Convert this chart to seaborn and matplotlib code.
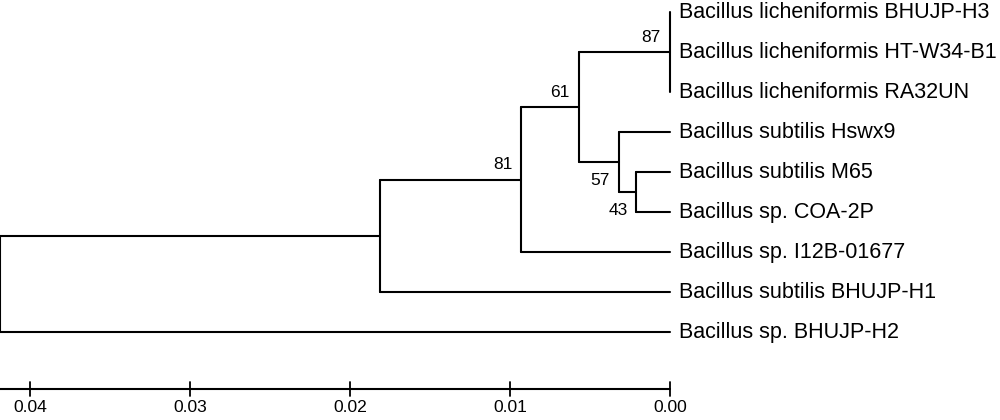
"""Rooted distance tree of Bacillus isolates, drawn with seaborn line segments."""

import matplotlib

matplotlib.use("Agg")
import matplotlib.pyplot as plt
import pandas as pd
import seaborn as sns

# leaves, top to bottom
leaf_names = [
    "Bacillus licheniformis BHUJP-H3",
    "Bacillus licheniformis HT-W34-B1",
    "Bacillus licheniformis RA32UN",
    "Bacillus subtilis Hswx9",
    "Bacillus subtilis M65",
    "Bacillus sp. COA-2P",
    "Bacillus sp. I12B-01677",
    "Bacillus subtilis BHUJP-H1",
    "Bacillus sp. BHUJP-H2",
]

# internal nodes (children are leaf names or node names)
node_names = ["n87", "n43", "n57", "n61", "n81", "n18", "root"]
node_children = [
    ["Bacillus licheniformis BHUJP-H3", "Bacillus licheniformis HT-W34-B1", "Bacillus licheniformis RA32UN"],
    ["Bacillus subtilis M65", "Bacillus sp. COA-2P"],
    ["Bacillus subtilis Hswx9", "n43"],
    ["n87", "n57"],
    ["n61", "Bacillus sp. I12B-01677"],
    ["n81", "Bacillus subtilis BHUJP-H1"],
    ["n18", "Bacillus sp. BHUJP-H2"],
]
node_heights = [0.0, 0.0021, 0.0032, 0.0057, 0.0093, 0.0181, 0.0419]
node_support = [87, 43, 57, 61, 81, None, None]
support_below = [False, True, True, False, False, False, False]

scale_ticks = [0.04, 0.03, 0.02, 0.01, 0.00]
scale_labels = ["0.04", "0.03", "0.02", "0.01", "0.00"]

# node positions
height = {name: 0.0 for name in leaf_names}
row = {name: float(i) for i, name in enumerate(leaf_names)}
for name, kids, h in zip(node_names, node_children, node_heights):
    height[name] = h
    row[name] = (row[kids[0]] + row[kids[-1]]) / 2

# segments for the tree
records = []
seg = 0
for name, kids in zip(node_names, node_children):
    records += [
        {"seg": seg, "x": height[name], "y": row[kids[0]]},
        {"seg": seg, "x": height[name], "y": row[kids[-1]]},
    ]
    seg += 1
    for kid in kids:
        records += [
            {"seg": seg, "x": height[name], "y": row[kid]},
            {"seg": seg, "x": height[kid], "y": row[kid]},
        ]
        seg += 1
segments = pd.DataFrame(records)

sns.set_theme(style="white")
plt.rcParams["font.family"] = ["Liberation Sans", "DejaVu Sans"]

fig = plt.figure(figsize=(10, 4.2), dpi=100)
ax = fig.add_axes([0, 0, 1, 1])
sns.lineplot(
    data=segments,
    x="x",
    y="y",
    units="seg",
    estimator=None,
    sort=False,
    color="black",
    linewidth=1.5,
    ax=ax,
    legend=False,
)

px = 1 / 16000  # distance per pixel
for name in leaf_names:
    ax.text(-9 * px, row[name], name, ha="left", va="center", fontsize=15.5, color="black")

for name, support, below in zip(node_names, node_support, support_below):
    if support is None:
        continue
    dy = 0.46 if below else -0.37
    ax.text(height[name] + 9 * px, row[name] + dy, str(support), ha="right", va="center",
            fontsize=12.5, color="black")

# scale axis
bar_y = 9.425
ax.plot([0.041875, 0.0], [bar_y, bar_y], color="black", linewidth=1.5)
for tick, label in zip(scale_ticks, scale_labels):
    ax.plot([tick, tick], [bar_y - 0.17, bar_y + 0.17], color="black", linewidth=1.3)
    ax.text(tick, 9.88, label, ha="center", va="center", fontsize=12.6, color="black")

ax.set_xlim(0.041875, -0.020625)
ax.set_ylim(10.2, -0.3)
ax.set_axis_off()

fig.savefig("out.png", dpi=100, facecolor="white")
